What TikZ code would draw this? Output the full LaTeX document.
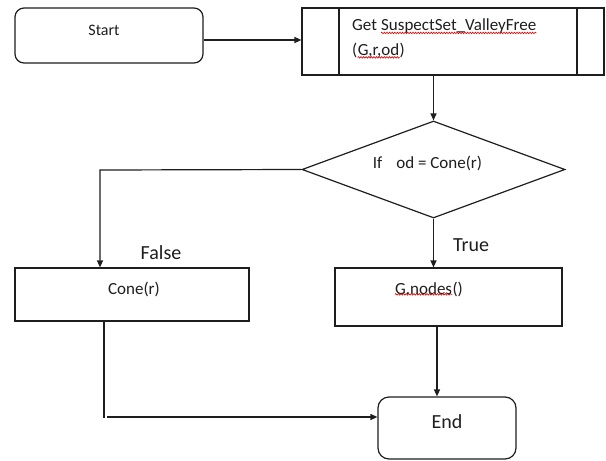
\documentclass[tikz,border=0pt]{standalone}
\usepackage{fontspec}
\setmainfont{Carlito}
\usetikzlibrary{arrows.meta,shapes.geometric,decorations.pathmorphing}
\definecolor{ink}{HTML}{1E1E1E}
\tikzset{
  box/.style={draw=ink, line width=1.2pt, inner sep=0pt},
  rbox/.style={box, rounded corners=9pt},
  txt/.style={inner sep=0pt, text=ink, font=\fontsize{17}{25}\selectfont},
  lbl/.style={inner sep=0pt, text=ink, font=\fontsize{20}{24}\selectfont},
  conn/.style={draw=ink, line width=1.2pt},
  arr/.style={conn, -{Triangle[length=7pt,width=6pt]}},
  wave/.style={draw=red!85!black, line width=0.6pt, decorate,
    decoration={snake, amplitude=0.8pt, segment length=2.6pt}, yshift=-2pt}
}
\begin{document}
\begin{tikzpicture}[x=1pt,y=-1pt]
\useasboundingbox (0,0) rectangle (606,461);
\fill[white] (0,0) rectangle (606,461);
% Start
\node[rbox, minimum width=188pt, minimum height=55pt] (start) at (109,35.5) {};
\node[txt, font=\fontsize{16}{20}\selectfont] (startt) at (104,30) {Start};
% process box
\node[box, minimum width=302pt, minimum height=67pt] (proc) at (453,41.5) {};
\draw[conn] (339,8) -- (339,75);
\draw[conn] (577,8) -- (577,75);
\node[txt, anchor=base west] (pget) at (352,30) {Get};
\node[txt, anchor=base west, xshift=3.8pt] (pss) at (pget.base east) {SuspectSet\_ValleyFree};
\node[txt, anchor=base west] (plp) at (352,55) {(};
\node[txt, anchor=base west] (pgro) at (plp.base east) {G,r,od};
\node[txt, anchor=base west] (prp) at (pgro.base east) {)};
\draw[wave] (pss.south west) -- (pss.south east);
\draw[wave] (pgro.south west) -- (pgro.south east);
% diamond
\node[box, shape=diamond, minimum width=263pt, minimum height=97pt] (dia) at (433.5,169.5) {};
\node[txt] (diat) at (427.5,163) {If\hspace{14pt}od = Cone(r)};
% Cone box
\node[box, minimum width=234pt, minimum height=53pt] (cone) at (132,294.5) {};
\node[txt] (conet) at (134,289) {Cone(r)};
% G.nodes box
\node[box, minimum width=227pt, minimum height=58pt] (gn) at (448.5,297) {};
\node[txt, anchor=base west] (gnt) at (395,294) {G.nodes};
\node[txt, anchor=base west] (gnp) at (gnt.base east) {()};
\draw[wave] (gnt.south west) -- (gnt.south east);
% End
\node[rbox, rounded corners=11pt, minimum width=138pt, minimum height=62pt] (endb) at (447,428) {};
\node[lbl] (endt) at (447,422) {End};
% labels
\node[lbl] (truel) at (471,245) {True};
\node[lbl] (falsel) at (161,253) {False};
% connectors
\coordinate (sa) at (0,40);
\draw[arr] (start.east |- sa) -- (proc.west |- sa);
\draw[arr] (dia.north |- proc.south) -- (dia.north);
\coordinate (fc) at (100,170);
\draw[arr] (dia.west) -- (fc) -- (fc |- cone.north);
\draw[arr] (dia.south) -- (dia.south |- gn.north);
\coordinate (ge) at (437,0);
\draw[arr] (gn.south -| ge) -- (ge |- endb.north);
\coordinate (ce) at (104,418);
\coordinate (cs) at (107,417);
\draw[conn] (cone.south -| ce) -- (ce);
\draw[arr] (cs) -- (endb.west |- cs);
\end{tikzpicture}
\end{document}
